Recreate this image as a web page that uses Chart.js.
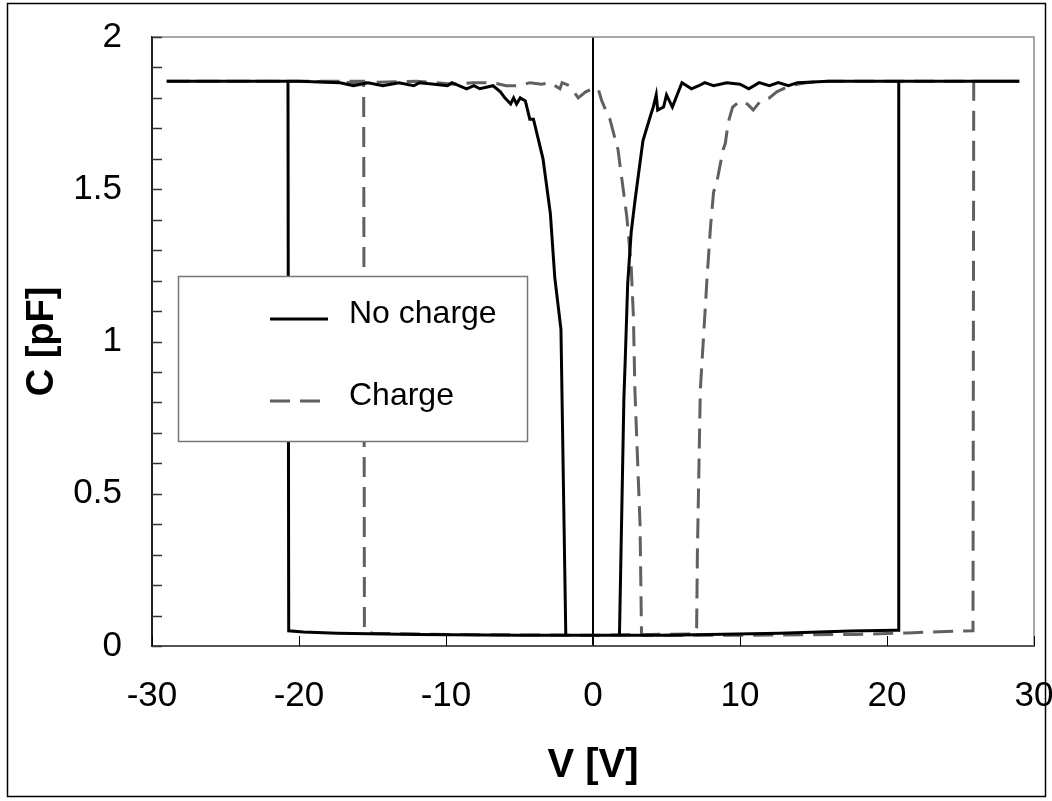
<!DOCTYPE html>
<html>
<head>
<meta charset="utf-8">
<script src="https://cdn.jsdelivr.net/npm/chart.js@4.4.1/dist/chart.umd.min.js"></script>
<style>
  body { margin: 0; background: #fff; }
  canvas { display: block; }
</style>
</head>
<body>
<canvas id="cv" width="1052" height="801"></canvas>
<script>
// C-V sweeps: forward (-29 -> 29) then reverse (29 -> -29)
const noChargeV = [
  -29, -24, -20, -17.2, -16.3, -15.3, -14.3, -13.2, -12.2, -11.8, -10.8, -9.9, -9.6, -8.6, -8.1, -7.7,
  -6.8, -6.3, -6.0, -5.6, -5.4, -5.2, -4.95, -4.6, -4.3, -4.05, -3.4, -3.15, -2.9, -2.6, -2.18, -1.85,
  -1.5, 5, 12.7, 17.5, 20.5, 20.75, 20.8, 25, 29,
  29, 25, 20, 16, 13.9, 13.3, 12.6, 12.0, 11.3, 10.6, 10.0, 9.1, 8.2, 7.6, 7.2, 6.7, 6.05, 5.4,
  5.0, 4.8, 4.4, 4.3, 4.1, 3.9, 3.4, 3.15, 2.85, 2.6, 2.36, 2.2, 2.1, 1.8, 1.5, -5, -12, -17.4,
  -19.7, -20.7, -20.75, -24, -29
];
const noChargeC = [
  1.855, 1.855, 1.855, 1.85, 1.84, 1.85, 1.84, 1.85, 1.84, 1.85, 1.845, 1.84, 1.85, 1.83, 1.84, 1.83,
  1.84, 1.82, 1.8, 1.78, 1.8, 1.78, 1.8, 1.79, 1.73, 1.73, 1.6, 1.51, 1.42, 1.21, 1.04, 0.035,
  0.035, 0.035, 0.042, 0.049, 0.052, 0.052, 1.855, 1.855, 1.855,
  1.855, 1.855, 1.855, 1.855, 1.85, 1.84, 1.85, 1.84, 1.85, 1.83, 1.845, 1.85, 1.84, 1.85, 1.84, 1.83, 1.85, 1.77,
  1.81, 1.77, 1.76, 1.81, 1.77, 1.74, 1.66, 1.57, 1.46, 1.36, 1.19, 0.95, 0.81, 0.035, 0.035, 0.035, 0.038, 0.042,
  0.046, 0.05, 1.855, 1.855, 1.855
];

const chargeV = [
  -29, -24, -20, -16, -12, -9.5, -8.2, -6.8, -5.9, -5.0, -4.3, -3.5, -2.9, -2.25, -2.1, -1.6,
  -1.0, -0.5, 0, 0.35, 0.6, 0.95, 1.15, 1.7, 2.3, 2.6, 2.75, 2.85, 3.2, 3.3, 3.4, 10, 18, 21.4,
  24.8, 25.85, 25.9, 29,
  29, 20, 16, 14.5, 13.4, 12.5, 12.0, 11.4, 10.9, 10.5, 10.0, 9.5, 9.2, 9.0, 8.85, 8.45, 8.2, 8.0,
  7.76, 7.55, 7.3, 7.1, 7.05, 6.9, 0, -10, -15.0, -15.55, -15.6, -20, -29
];
const chargeC = [
  1.855, 1.855, 1.855, 1.85, 1.855, 1.845, 1.85, 1.85, 1.84, 1.84, 1.85, 1.845, 1.85, 1.83, 1.85, 1.84,
  1.8, 1.82, 1.83, 1.83, 1.79, 1.75, 1.73, 1.63, 1.41, 1.245, 1.08, 0.84, 0.4, 0.04, 0.035, 0.035, 0.038, 0.043,
  0.049, 0.05, 1.855, 1.855,
  1.855, 1.855, 1.855, 1.85, 1.84, 1.82, 1.8, 1.79, 1.76, 1.78, 1.79, 1.77, 1.72, 1.65, 1.63, 1.53, 1.49, 1.38,
  1.21, 1.04, 0.84, 0.3, 0.06, 0.04, 0.035, 0.038, 0.042, 0.05, 1.855, 1.855, 1.855
];

const voltTicks = [-30, -20, -10, 0, 10, 20, 30];
const capTicks = [0, 0.5, 1, 1.5, 2];
const capMinorTicks = [0, 0.1, 0.2, 0.3, 0.4, 0.5, 0.6, 0.7, 0.8, 0.9, 1.0,
  1.1, 1.2, 1.3, 1.4, 1.5, 1.6, 1.7, 1.8, 1.9, 2.0];
const seriesNames = ['No charge', 'Charge'];

const FONT = "'Liberation Sans', Arial, sans-serif";
const DASH = [20, 10];

function toPoints(xs, ys) {
  return xs.map((x, i) => ({ x: x, y: ys[i] }));
}

const framePlugin = {
  id: 'frame',
  beforeDraw(chart) {
    const ctx = chart.ctx;
    ctx.save();
    ctx.fillStyle = '#fff';
    ctx.fillRect(0, 0, chart.width, chart.height);
    ctx.strokeStyle = '#000';
    ctx.lineWidth = 1.5;
    ctx.strokeRect(7.5, 3.5, 1038, 793);
    ctx.restore();
  },
  beforeDatasetsDraw(chart) {
    const { ctx, chartArea: a, scales } = chart;
    ctx.save();
    // top and right edges of the plot box
    ctx.strokeStyle = '#8c8c8c';
    ctx.lineWidth = 1.5;
    ctx.beginPath();
    ctx.moveTo(a.left, a.top);
    ctx.lineTo(a.right, a.top);
    ctx.lineTo(a.right, a.bottom);
    ctx.stroke();
    // inward tick marks
    ctx.strokeStyle = '#333';
    ctx.lineWidth = 1.5;
    capMinorTicks.forEach(v => {
      const y = Math.round(scales.y.getPixelForValue(v)) + 0.5;
      ctx.beginPath();
      ctx.moveTo(a.left, y);
      ctx.lineTo(a.left + 10, y);
      ctx.stroke();
    });
    ctx.strokeStyle = '#000';
    ctx.lineWidth = 1;
    voltTicks.forEach(v => {
      const x = Math.round(scales.x.getPixelForValue(v)) + 0.5;
      ctx.beginPath();
      ctx.moveTo(x, a.bottom);
      ctx.lineTo(x, a.bottom - 10);
      ctx.stroke();
    });
    ctx.restore();
  },
  afterDatasetsDraw(chart) {
    const ctx = chart.ctx;
    const ds = chart.data.datasets;
    ctx.save();
    ctx.fillStyle = '#fff';
    ctx.fillRect(178, 276, 350, 166);
    ctx.strokeStyle = '#777';
    ctx.lineWidth = 1.5;
    ctx.strokeRect(178.5, 276.5, 349, 165);
    const rows = [319, 401];
    ds.forEach((d, i) => {
      ctx.strokeStyle = d.borderColor;
      ctx.lineWidth = d.borderWidth;
      ctx.setLineDash(d.borderDash || []);
      ctx.beginPath();
      ctx.moveTo(270, rows[i]);
      ctx.lineTo(i === 0 ? 328 : 323, rows[i]);
      ctx.stroke();
      ctx.setLineDash([]);
      ctx.fillStyle = '#000';
      ctx.font = '32px ' + FONT;
      ctx.textBaseline = 'alphabetic';
      ctx.fillText(d.label, 349, rows[i] + 4);
    });
    ctx.restore();
  }
};

new Chart(document.getElementById('cv'), {
  type: 'scatter',
  data: {
    datasets: [
      {
        label: seriesNames[0],
        data: toPoints(noChargeV, noChargeC),
        showLine: true,
        borderColor: '#000',
        borderWidth: 3,
        pointRadius: 0,
        tension: 0
      },
      {
        label: seriesNames[1],
        data: toPoints(chargeV, chargeC),
        showLine: true,
        borderColor: '#606060',
        borderWidth: 3,
        borderDash: DASH,
        pointRadius: 0,
        tension: 0
      }
    ]
  },
  options: {
    responsive: false,
    animation: false,
    layout: { padding: { top: 37, right: 18, left: 0, bottom: 0 } },
    plugins: { legend: { display: false }, tooltip: { enabled: false } },
    scales: {
      x: {
        type: 'linear',
        min: -30,
        max: 30,
        afterBuildTicks: s => { s.ticks = voltTicks.map(v => ({ value: v })); },
        afterFit: s => { s.height = 155; s.paddingLeft = 0; s.paddingRight = 0; },
        ticks: {
          color: '#000',
          font: { family: FONT, size: 35 },
          padding: 29,
          maxRotation: 0,
          callback: v => String(v)
        },
        grid: {
          drawTicks: false,
          color: c => (c.tick && c.tick.value === 0 ? '#000' : 'rgba(0,0,0,0)'),
          lineWidth: 2
        },
        border: { color: '#555', width: 2 },
        title: {
          display: true,
          text: 'V [V]',
          color: '#000',
          font: { family: FONT, size: 40, weight: 'bold' },
          padding: { top: 0, bottom: 11 }
        }
      },
      y: {
        min: 0,
        max: 2,
        afterBuildTicks: s => { s.ticks = capTicks.map(v => ({ value: v })); },
        afterFit: s => { s.width = 152; s.paddingTop = 0; s.paddingBottom = 0; },
        ticks: {
          color: '#000',
          font: { family: FONT, size: 35 },
          padding: 30,
          callback: v => String(v)
        },
        grid: { display: false, drawTicks: false },
        border: { color: '#222', width: 2 },
        title: {
          display: true,
          text: 'C [pF]',
          color: '#000',
          font: { family: FONT, size: 38, weight: 'bold' },
          padding: { top: 20, bottom: 0 }
        }
      }
    }
  },
  plugins: [framePlugin]
});
</script>
</body>
</html>
